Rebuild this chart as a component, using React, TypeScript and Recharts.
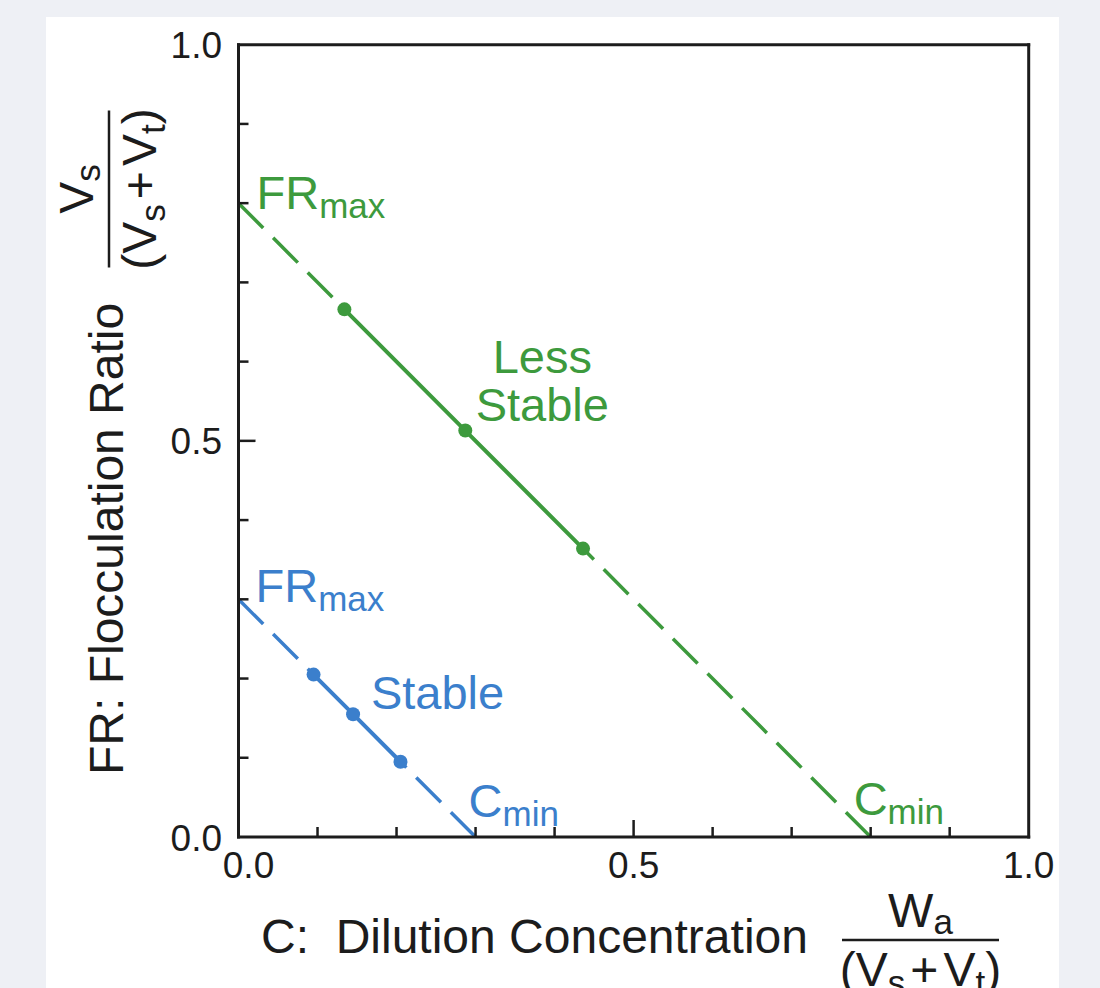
import React from 'react';
import { LineChart, Line, XAxis, YAxis, ReferenceLine, ReferenceDot } from 'recharts';

// ---- data ----
const xTicks = [0, 0.1, 0.2, 0.3, 0.4, 0.5, 0.6, 0.7, 0.8, 0.9, 1.0];
const yTicks = [0, 0.1, 0.2, 0.3, 0.4, 0.5, 0.6, 0.7, 0.8, 0.9, 1.0];
const labeledTicks = [0, 0.5, 1.0];
const majorTicks = [0.5];

// Less stable (green): intercepts and measured points
const lessStableFRmax = { c: 0, fr: 0.8 };
const lessStableCmin = { c: 0.8, fr: 0 };
const lessStablePoints = [
  { c: 0.134, fr: 0.666 },
  { c: 0.287, fr: 0.513 },
  { c: 0.436, fr: 0.364 },
];

// Stable (blue): intercepts and measured points
const stableFRmax = { c: 0, fr: 0.3 };
const stableCmin = { c: 0.3, fr: 0 };
const stablePoints = [
  { c: 0.095, fr: 0.205 },
  { c: 0.145, fr: 0.155 },
  { c: 0.205, fr: 0.095 },
];

// extrapolated (dashed) segments built from the arrays above
const lessStableExtA = [lessStableFRmax, lessStablePoints[0]];
const lessStableExtB = [lessStableCmin, lessStablePoints[lessStablePoints.length - 1]];
const stableExtA = [stableFRmax, stablePoints[0]];
const stableExtB = [stableCmin, stablePoints[stablePoints.length - 1]];

// ---- style ----
const GREEN = '#3d9a3d';
const BLUE = '#3b7fcc';
const INK = '#1c1c1c';
const FONT = '"Liberation Sans", Arial, Helvetica, sans-serif';
const TITLE_SIZE = 48;
const LABEL_SIZE = 47;
const SUB_SIZE = 35;
const TICK_SIZE = 37;
const DASH = '35 14';

const fmt = (v: number) => v.toFixed(1);
const isLabeled = (v: number) => labeledTicks.some((t) => Math.abs(t - v) < 1e-9);
const isMajor = (v: number) => majorTicks.some((t) => Math.abs(t - v) < 1e-9);
const isEnd = (v: number) => Math.abs(v) < 1e-9 || Math.abs(v - 1) < 1e-9;

const XTick = (props: any) => {
  const { x, y, payload } = props;
  const v = payload.value as number;
  const len = isMajor(v) ? 17 : 10;
  return (
    <g>
      {!isEnd(v) && (
        <line x1={x} y1={y} x2={x} y2={y - len} stroke={INK} strokeWidth={2.5} />
      )}
      {isLabeled(v) && (
        <text
          x={x + (Math.abs(v) < 1e-9 ? 10 : 0)}
          y={y + 41}
          textAnchor="middle"
          fontSize={TICK_SIZE}
          fontFamily={FONT}
          fill={INK}
        >
          {fmt(v)}
        </text>
      )}
    </g>
  );
};

const YTick = (props: any) => {
  const { x, y, payload } = props;
  const v = payload.value as number;
  const len = isMajor(v) ? 17 : 10;
  return (
    <g>
      {!isEnd(v) && (
        <line x1={x} y1={y} x2={x + len} y2={y} stroke={INK} strokeWidth={2.5} />
      )}
      {isLabeled(v) && (
        <text
          x={x - 16.5}
          y={y + 13.5}
          textAnchor="end"
          fontSize={TICK_SIZE}
          fontFamily={FONT}
          fill={INK}
        >
          {fmt(v)}
        </text>
      )}
    </g>
  );
};

// subscripted label placed relative to a reference dot
const SubLabel = (props: any) => {
  const { viewBox, main, sub, dx, dy, color } = props;
  if (!viewBox) return null;
  const x = viewBox.x + (viewBox.width || 0) / 2;
  const y = viewBox.y + (viewBox.height || 0) / 2;
  return (
    <text x={x + dx} y={y + dy} fill={color} fontSize={LABEL_SIZE} fontFamily={FONT}>
      {main}
      <tspan dy={9} fontSize={SUB_SIZE}>
        {sub}
      </tspan>
    </text>
  );
};

const LinesLabel = (props: any) => {
  const { viewBox, lines, dx, dy, color, gap } = props;
  if (!viewBox) return null;
  const x = viewBox.x + (viewBox.width || 0) / 2;
  const y = viewBox.y + (viewBox.height || 0) / 2;
  return (
    <text x={x + dx} y={y + dy} fill={color} fontSize={LABEL_SIZE} fontFamily={FONT} textAnchor="middle">
      {lines.map((l: string, i: number) => (
        <tspan key={i} x={x + dx} dy={i === 0 ? 0 : gap}>
          {l}
        </tspan>
      ))}
    </text>
  );
};

const Denominator = ({ x, y }: { x: number; y: number }) => (
  <text x={x} y={y} fontSize={TITLE_SIZE} textAnchor="middle">
    (V<tspan dy={9} fontSize={SUB_SIZE}>s</tspan>
    <tspan dy={-9} dx={5}>+</tspan>
    <tspan dx={5}>V</tspan>
    <tspan dy={9} fontSize={SUB_SIZE}>t</tspan>
    <tspan dy={-9}>)</tspan>
  </text>
);

const XTitle = (props: any) => {
  const { viewBox } = props;
  if (!viewBox) return null;
  const vx = viewBox.x;
  const vy = viewBox.y;
  const fx = vx + 682;
  const bar = vy + 103;
  return (
    <g fontFamily={FONT} fill={INK}>
      <text x={vx + 22.5} y={vy + 116} fontSize={TITLE_SIZE} style={{ whiteSpace: 'pre' }}>
        {'C:  Dilution Concentration'}
      </text>
      <text x={fx} y={vy + 90} fontSize={TITLE_SIZE} textAnchor="middle">
        W<tspan dy={7} fontSize={SUB_SIZE}>a</tspan>
      </text>
      <line x1={fx - 78.5} y1={bar} x2={fx + 78.5} y2={bar} stroke={INK} strokeWidth={2.5} />
      <Denominator x={fx} y={vy + 149} />
    </g>
  );
};

const YTitle = (props: any) => {
  const { viewBox } = props;
  if (!viewBox) return null;
  const px = viewBox.x + viewBox.width; // plot left edge
  const py = viewBox.y; // plot top edge
  const tx = px - 115.5;
  const ty = py + 730.3;
  const cx = px - 129.5;
  const cy = py + 144.3;
  return (
    <g fontFamily={FONT} fill={INK}>
      <text transform={`translate(${tx}, ${ty}) rotate(-90)`} fontSize={TITLE_SIZE}>
        FR: Flocculation Ratio
      </text>
      <g transform={`translate(${cx}, ${cy}) rotate(-90)`}>
        <text x={0} y={-16} fontSize={TITLE_SIZE} textAnchor="middle">
          V<tspan dy={7} fontSize={SUB_SIZE}>s</tspan>
        </text>
        <line x1={-78.5} y1={0} x2={78.5} y2={0} stroke={INK} strokeWidth={2.5} />
        <Denominator x={0} y={47} />
      </g>
    </g>
  );
};

const dashedProps = {
  dataKey: 'fr',
  type: 'linear' as const,
  strokeWidth: 3.5,
  strokeDasharray: DASH,
  dot: false,
  activeDot: false,
  isAnimationActive: false,
};

export default function App() {
  return (
    <div
      style={{
        position: 'absolute',
        left: 0,
        top: 0,
        width: 1100,
        height: 988,
        background: '#eef0f5',
        overflow: 'hidden',
      }}
    >
      <div
        style={{
          position: 'absolute',
          left: 46,
          top: 17,
          width: 1013,
          height: 971,
          background: '#ffffff',
        }}
      />
      <div style={{ position: 'absolute', left: 0, top: 0 }}>
        <LineChart
          width={1100}
          height={988}
          margin={{ top: 44.7, right: 71.3, bottom: 51, left: 138.5 }}
        >
          <XAxis
            type="number"
            dataKey="c"
            domain={[0, 1]}
            ticks={xTicks}
            interval={0}
            allowDataOverflow
            height={100}
            tickSize={0}
            tickMargin={0}
            tickLine={false}
            tick={<XTick />}
            axisLine={{ stroke: INK, strokeWidth: 3, strokeLinecap: 'square' }}
            label={<XTitle />}
          />
          <YAxis
            type="number"
            dataKey="fr"
            domain={[0, 1]}
            ticks={yTicks}
            interval={0}
            allowDataOverflow
            width={100}
            tickSize={0}
            tickMargin={0}
            tickLine={false}
            tick={<YTick />}
            axisLine={{ stroke: INK, strokeWidth: 3, strokeLinecap: 'square' }}
            label={<YTitle />}
          />
          <ReferenceLine y={1} stroke={INK} strokeWidth={3} strokeLinecap="square" />
          <ReferenceLine x={1} stroke={INK} strokeWidth={3} strokeLinecap="square" />

          <Line data={lessStableExtA} stroke={GREEN} {...dashedProps} />
          <Line data={lessStableExtB} stroke={GREEN} {...dashedProps} />
          <Line
            data={lessStablePoints}
            dataKey="fr"
            type="linear"
            stroke={GREEN}
            strokeWidth={4}
            dot={{ r: 7, fill: GREEN, stroke: 'none' }}
            activeDot={false}
            isAnimationActive={false}
          />
          <Line data={stableExtA} stroke={BLUE} {...dashedProps} />
          <Line data={stableExtB} stroke={BLUE} {...dashedProps} />
          <Line
            data={stablePoints}
            dataKey="fr"
            type="linear"
            stroke={BLUE}
            strokeWidth={4}
            dot={{ r: 7, fill: BLUE, stroke: 'none' }}
            activeDot={false}
            isAnimationActive={false}
          />

          <ReferenceDot
            x={lessStableFRmax.c}
            y={lessStableFRmax.fr}
            r={0}
            fill="none"
            stroke="none"
            label={<SubLabel main="FR" sub="max" dx={18} dy={5.5} color={GREEN} />}
          />
          <ReferenceDot
            x={stableFRmax.c}
            y={stableFRmax.fr}
            r={0}
            fill="none"
            stroke="none"
            label={<SubLabel main="FR" sub="max" dx={17} dy={3} color={BLUE} />}
          />
          <ReferenceDot
            x={lessStableCmin.c}
            y={lessStableCmin.fr}
            r={0}
            fill="none"
            stroke="none"
            label={<SubLabel main="C" sub="min" dx={-17} dy={-22} color={GREEN} />}
          />
          <ReferenceDot
            x={stableCmin.c}
            y={stableCmin.fr}
            r={0}
            fill="none"
            stroke="none"
            label={<SubLabel main="C" sub="min" dx={-7} dy={-20} color={BLUE} />}
          />
          <ReferenceDot
            x={lessStablePoints[1].c}
            y={lessStablePoints[1].fr}
            r={0}
            fill="none"
            stroke="none"
            label={<LinesLabel lines={['Less', 'Stable']} dx={77} dy={-58} gap={48} color={GREEN} />}
          />
          <ReferenceDot
            x={stablePoints[1].c}
            y={stablePoints[1].fr}
            r={0}
            fill="none"
            stroke="none"
            label={<LinesLabel lines={['Stable']} dx={84.5} dy={-5} gap={0} color={BLUE} />}
          />
        </LineChart>
      </div>
    </div>
  );
}
